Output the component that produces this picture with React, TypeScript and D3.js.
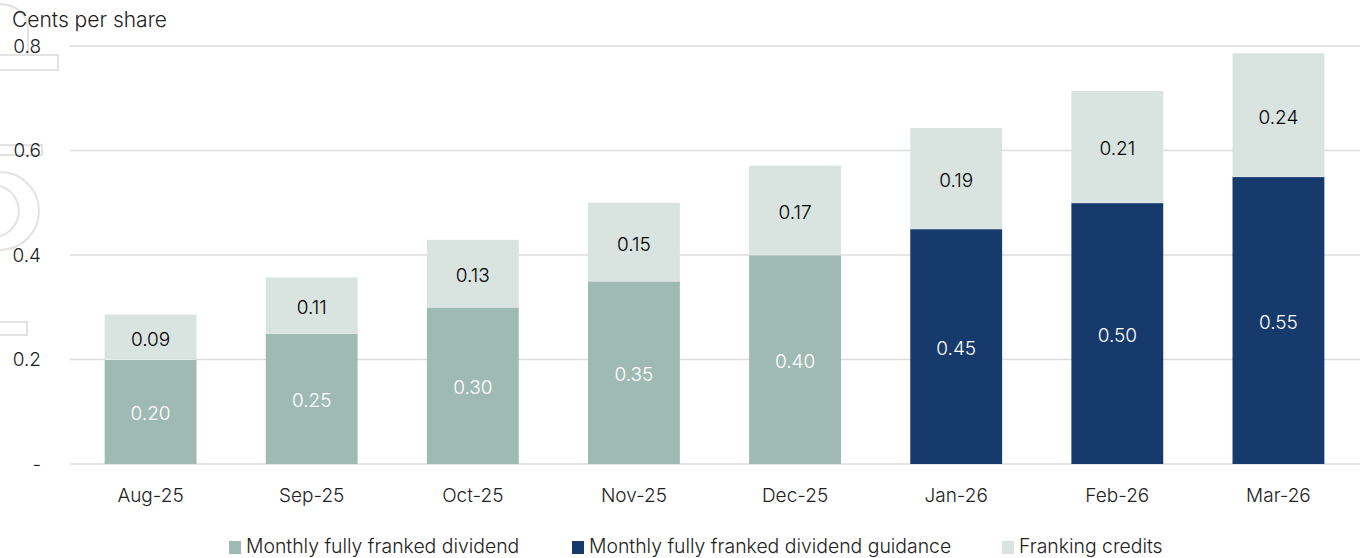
import * as d3 from "d3"

const months = ["Aug-25", "Sep-25", "Oct-25", "Nov-25", "Dec-25", "Jan-26", "Feb-26", "Mar-26"]
const paidDividend = [0.2, 0.25, 0.3, 0.35, 0.4, 0, 0, 0]
const guidanceDividend = [0, 0, 0, 0, 0, 0.45, 0.5, 0.55]
const frankingCredits = [0.086, 0.107, 0.129, 0.15, 0.171, 0.193, 0.214, 0.236]
const yTicks = [0, 0.2, 0.4, 0.6, 0.8]

const legendItems = [
  { label: "Monthly fully franked dividend", color: "#9fbab2", x: 229 },
  { label: "Monthly fully franked dividend guidance", color: "#163a6b", x: 572 },
  { label: "Franking credits", color: "#d9e3e0", x: 1002 },
]

const W = 1363
const H = 558
const FONT = "Inter, 'Noto Sans', sans-serif"

export default function App() {
  const x = d3.scaleBand<string>()
    .domain(months)
    .range([70, 1359])
    .paddingInner(0.43)
    .paddingOuter(0.215)

  const y = d3.scaleLinear().domain([0, 0.8]).range([464, 46])

  const rows = months.map((m, i) => ({
    month: m,
    base: paidDividend[i] + guidanceDividend[i],
    guidance: guidanceDividend[i] > 0,
    franking: frankingCredits[i],
  }))

  return (
    <div style={{ position: "absolute", left: 0, top: 0 }}>
      <svg width={W} height={H} style={{ display: "block", fontFamily: FONT }}>
        <rect width={W} height={H} fill="#fff" />

        {/* faint watermark shapes at the left edge */}
        <g fill="none" stroke="#e2e2e2" strokeWidth={2}>
          <path d="M0,4 Q27,6 28,30 L28,55" />
          <rect x={-4} y={55} width={62} height={15} />
          <rect x={-4} y={145} width={46} height={10} />
          <path d="M0,172 A38,38 0 0 1 0,250" />
          <path d="M0,186 A26,26 0 0 1 0,236" />
          <rect x={-4} y={322} width={31} height={13} />
        </g>

        <text x={12} y={27} fontSize={21} fontWeight={300} fill="#222">Cents per share</text>

        {yTicks.map((t) => (
          <g key={t}>
            <line x1={70} x2={1360} y1={y(t)} y2={y(t)} stroke="#dcdcdc" strokeWidth={1.5} />
            <text
              x={41}
              y={y(t)}
              dy="0.35em"
              textAnchor="end"
              fontSize={19}
              fontWeight={300}
              fill="#222"
            >
              {t === 0 ? "-" : d3.format(".1f")(t)}
            </text>
          </g>
        ))}

        {rows.map((r) => {
          const bx = x(r.month) || 0
          const bw = x.bandwidth()
          const top = r.base + r.franking
          return (
            <g key={r.month}>
              <rect
                x={bx}
                y={y(r.base)}
                width={bw}
                height={y(0) - y(r.base)}
                fill={r.guidance ? "#163a6b" : "#9fbab2"}
              />
              <rect
                x={bx}
                y={y(top)}
                width={bw}
                height={y(r.base) - y(top)}
                fill="#d9e3e0"
              />
              <line x1={bx} x2={bx + bw} y1={y(r.base)} y2={y(r.base)} stroke="#e8eeec" strokeWidth={0.8} />
              <text
                x={bx + bw / 2}
                y={(y(0) + y(r.base)) / 2 + 2}
                dy="0.35em"
                textAnchor="middle"
                fontSize={19}
                fontWeight={300}
                fill="#fff"
              >
                {d3.format(".2f")(r.base)}
              </text>
              <text
                x={bx + bw / 2}
                y={(y(r.base) + y(top)) / 2 + 2}
                dy="0.35em"
                textAnchor="middle"
                fontSize={19}
                fontWeight={340}
                fill="#000"
              >
                {d3.format(".2f")(r.franking)}
              </text>
              <text
                x={bx + bw / 2}
                y={495}
                dy="0.35em"
                textAnchor="middle"
                fontSize={19}
                fontWeight={300}
                fill="#222"
              >
                {r.month}
              </text>
            </g>
          )
        })}

        {legendItems.map((l) => (
          <g key={l.label}>
            <rect x={l.x} y={541} width={12} height={13} fill={l.color} />
            <text x={l.x + 17} y={553} fontSize={19.4} fontWeight={300} fill="#222">{l.label}</text>
          </g>
        ))}
      </svg>
    </div>
  )
}
